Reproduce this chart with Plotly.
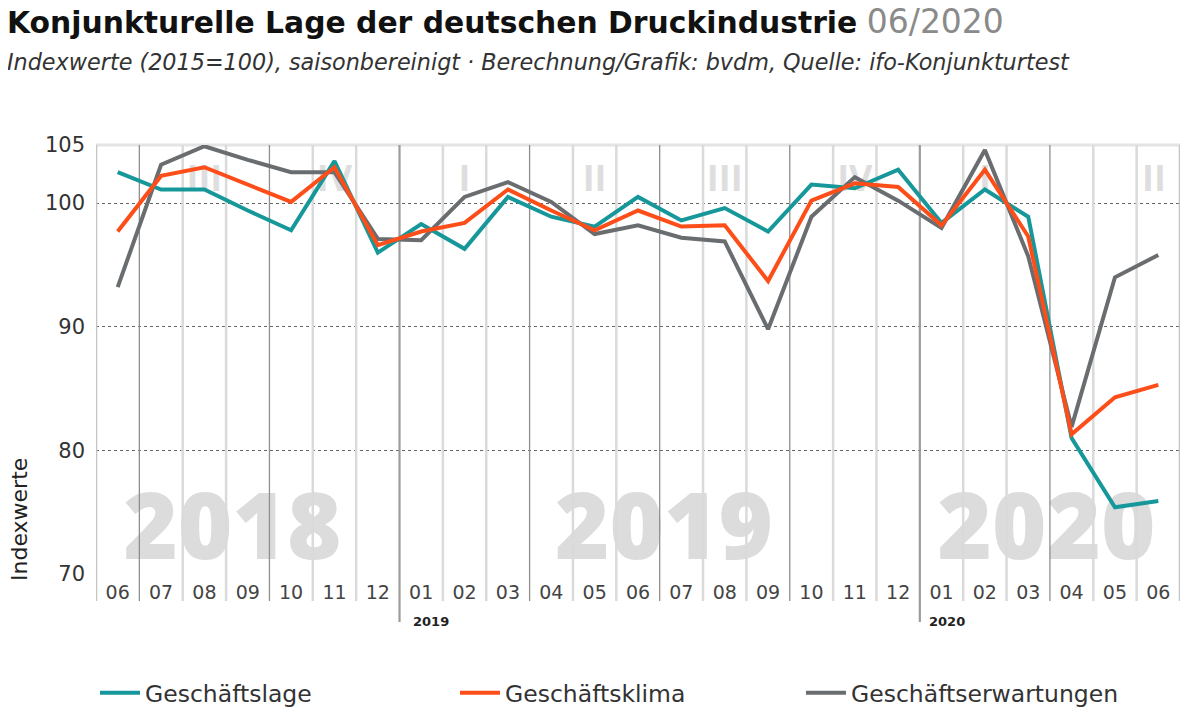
import plotly.graph_objects as go

# ---------------- data ----------------
months = ["06", "07", "08", "09", "10", "11", "12",
          "01", "02", "03", "04", "05", "06", "07", "08", "09", "10", "11", "12",
          "01", "02", "03", "04", "05", "06"]

geschaeftslage = [102.5, 101.1, 101.1, 99.4, 97.8, 103.4, 96.0,
                  98.3, 96.3, 100.5, 98.9, 98.1, 100.5, 98.6, 99.6, 97.7, 101.5, 101.2, 102.7,
                  98.4, 101.1, 98.9, 81.0, 75.4, 75.9]
geschaeftsklima = [97.7, 102.2, 102.9, 101.5, 100.1, 102.9, 96.6,
                   97.7, 98.4, 101.1, 99.4, 97.8, 99.4, 98.1, 98.2, 93.7, 100.2, 101.6, 101.3,
                   98.2, 102.7, 97.3, 81.3, 84.3, 85.3]
geschaeftserwartungen = [93.2, 103.1, 104.6, 103.5, 102.5, 102.5, 97.1,
                         97.0, 100.5, 101.7, 100.1, 97.5, 98.2, 97.2, 96.9, 89.8, 98.9, 102.1, 100.2,
                         98.0, 104.3, 95.7, 81.9, 94.0, 95.8]

series_names = ["Geschäftslage", "Geschäftsklima", "Geschäftserwartungen"]

year_labels = ["2018", "2019", "2020"]
year_label_x = [2.65, 12.6, 21.42]
year_start_labels = ["2019", "2020"]
quarter_labels = ["III", "IV", "I", "II", "III", "IV", "I", "II"]
quarter_label_x = [2, 5, 8, 11, 14, 17, 20, 23.9]

y_ticks = [70, 80, 90, 100, 104.7]
y_ticktext = ["70", "80", "90", "100", "105"]

# ---------------- layout geometry ----------------
# the page body has an 8px margin: the figure is sized to fit the window
OFF = 8
W, H = 1200 - OFF, 712 - OFF
L, T = 96 - OFF, 145 - OFF
R = W - (1180 - OFF)
B = H - (574 - OFF)
PW, PH = W - L - R, H - T - B
YMIN, YMAX = 70, 104.7

def xp(px):
    """page pixel x -> paper x"""
    return (px - OFF - L) / PW

def yp(py):
    """page pixel y -> paper y"""
    return (H - B - (py - OFF)) / PH

FONT_BIG = "Open Sans"
FONT = "DejaVu Sans"
TEAL = "#16979a"
ORANGE = "#fd4d18"
GREY = "#6a6d70"

n = len(months)
x = list(range(n))

fig = go.Figure()

# big faint year labels (under everything)
fig.add_trace(go.Scatter(
    x=year_label_x, y=[73.1] * len(year_labels), mode="text", text=year_labels,
    textfont=dict(family=FONT_BIG, size=93, color="#dcdcdc", weight=800),
    hoverinfo="skip", showlegend=False, cliponaxis=False))

# quarter labels
fig.add_trace(go.Scatter(
    x=quarter_label_x, y=[101.7] * len(quarter_labels), mode="text", text=quarter_labels,
    textfont=dict(family=FONT_BIG, size=36, color="#dedede", weight=700),
    hoverinfo="skip", showlegend=False, cliponaxis=False))

# vertical separators
quarter_b = {1, 4, 10, 13, 16, 22}
year_b = {7, 19}
styles = {
    "month": dict(color="#dadada", width=2.5),
    "quarter": dict(color="#8f8f8f", width=1.3),
    "year": dict(color="#9c9c9c", width=2.2),
    "edge": dict(color="#c4c4c4", width=2.5),
}
groups = {k: [] for k in styles}
for b in range(n + 1):
    if b in year_b:
        kind = "year"
    elif b in quarter_b:
        kind = "quarter"
    elif b in (0, n):
        kind = "edge"
    else:
        kind = "month"
    groups[kind].append(b - 0.5)

shapes = []
for kind, xs in groups.items():
    lx, ly = [], []
    for xv in xs:
        lx += [xv, xv, None]
        ly += [YMIN, YMAX, None]
        bottom = yp(622) if kind == "year" else yp(601)
        shapes.append(dict(type="line", xref="x", yref="paper", x0=xv, x1=xv,
                           y0=0, y1=bottom, line=styles[kind], layer="below"))
    fig.add_trace(go.Scatter(x=lx, y=ly, mode="lines", line=styles[kind],
                             hoverinfo="skip", showlegend=False))

# top border
shapes.append(dict(type="line", xref="paper", yref="paper", x0=0, x1=1, y0=1, y1=1,
                   line=dict(color="#e4e4e4", width=3), layer="between"))

# data lines (grey bottom, teal, orange top)
fig.add_trace(go.Scatter(x=x, y=geschaeftserwartungen, mode="lines", name=series_names[2],
                         line=dict(color=GREY, width=4), legend="legend3"))
fig.add_trace(go.Scatter(x=x, y=geschaeftslage, mode="lines", name=series_names[0],
                         line=dict(color=TEAL, width=4), legend="legend"))
fig.add_trace(go.Scatter(x=x, y=geschaeftsklima, mode="lines", name=series_names[1],
                         line=dict(color=ORANGE, width=4), legend="legend2"))

annotations = [
    dict(text="<b>Konjunkturelle Lage der deutschen Druckindustrie</b> "
              "<span style='color:#8a8a8a;font-size:33px'>06/2020</span>",
         xref="paper", yref="paper", x=xp(5), y=yp(21), xanchor="left", yanchor="middle",
         showarrow=False, font=dict(family=FONT, size=29.8, color="#111")),
    dict(text="<i>Indexwerte (2015=100), saisonbereinigt · Berechnung/Grafik: bvdm, "
              "Quelle: ifo-Konjunkturtest</i>",
         xref="paper", yref="paper", x=xp(5), y=yp(62), xanchor="left", yanchor="middle",
         showarrow=False, font=dict(family=FONT, size=22.3, color="#333")),
    dict(text="Indexwerte", textangle=-90, xref="paper", yref="paper",
         x=xp(19), y=yp(520), xanchor="center", yanchor="middle",
         showarrow=False, font=dict(family=FONT, size=22, color="#222")),
]
for lbl, px in zip(year_start_labels, [411, 927]):
    annotations.append(dict(text="<b>" + lbl + "</b>", xref="paper", yref="paper",
                            x=xp(px), y=yp(621), xanchor="left", yanchor="middle",
                            showarrow=False, font=dict(family=FONT, size=13, color="#222")))

def legend_at(px):
    return dict(x=xp(px), y=yp(693), xanchor="left", yanchor="middle",
                orientation="h", bgcolor="rgba(0,0,0,0)", itemwidth=40,
                font=dict(family=FONT, size=23.5, color="#333"))

fig.update_layout(
    width=W, height=H,
    margin=dict(l=L, r=R, t=T, b=B, autoexpand=False),
    paper_bgcolor="white", plot_bgcolor="white",
    font=dict(family=FONT),
    xaxis=dict(range=[-0.5, n - 0.5], tickmode="array", tickvals=x, ticktext=months,
               showgrid=False, zeroline=False, showline=False, ticks="",
               tickfont=dict(family=FONT, size=19, color="#444"), ticklabelstandoff=5,
               automargin=False, fixedrange=True),
    yaxis=dict(range=[YMIN, YMAX], tickmode="array", tickvals=y_ticks, ticktext=y_ticktext,
               showgrid=True, gridcolor="#666", gridwidth=1, griddash="dot",
               zeroline=False, showline=False, ticks="",
               tickfont=dict(family=FONT, size=21, color="#333"), ticklabelstandoff=10,
               automargin=False, fixedrange=True),
    shapes=shapes,
    annotations=annotations,
    legend=legend_at(95),
    legend2=legend_at(455),
    legend3=legend_at(801),
)

fig.write_html("out.html")
